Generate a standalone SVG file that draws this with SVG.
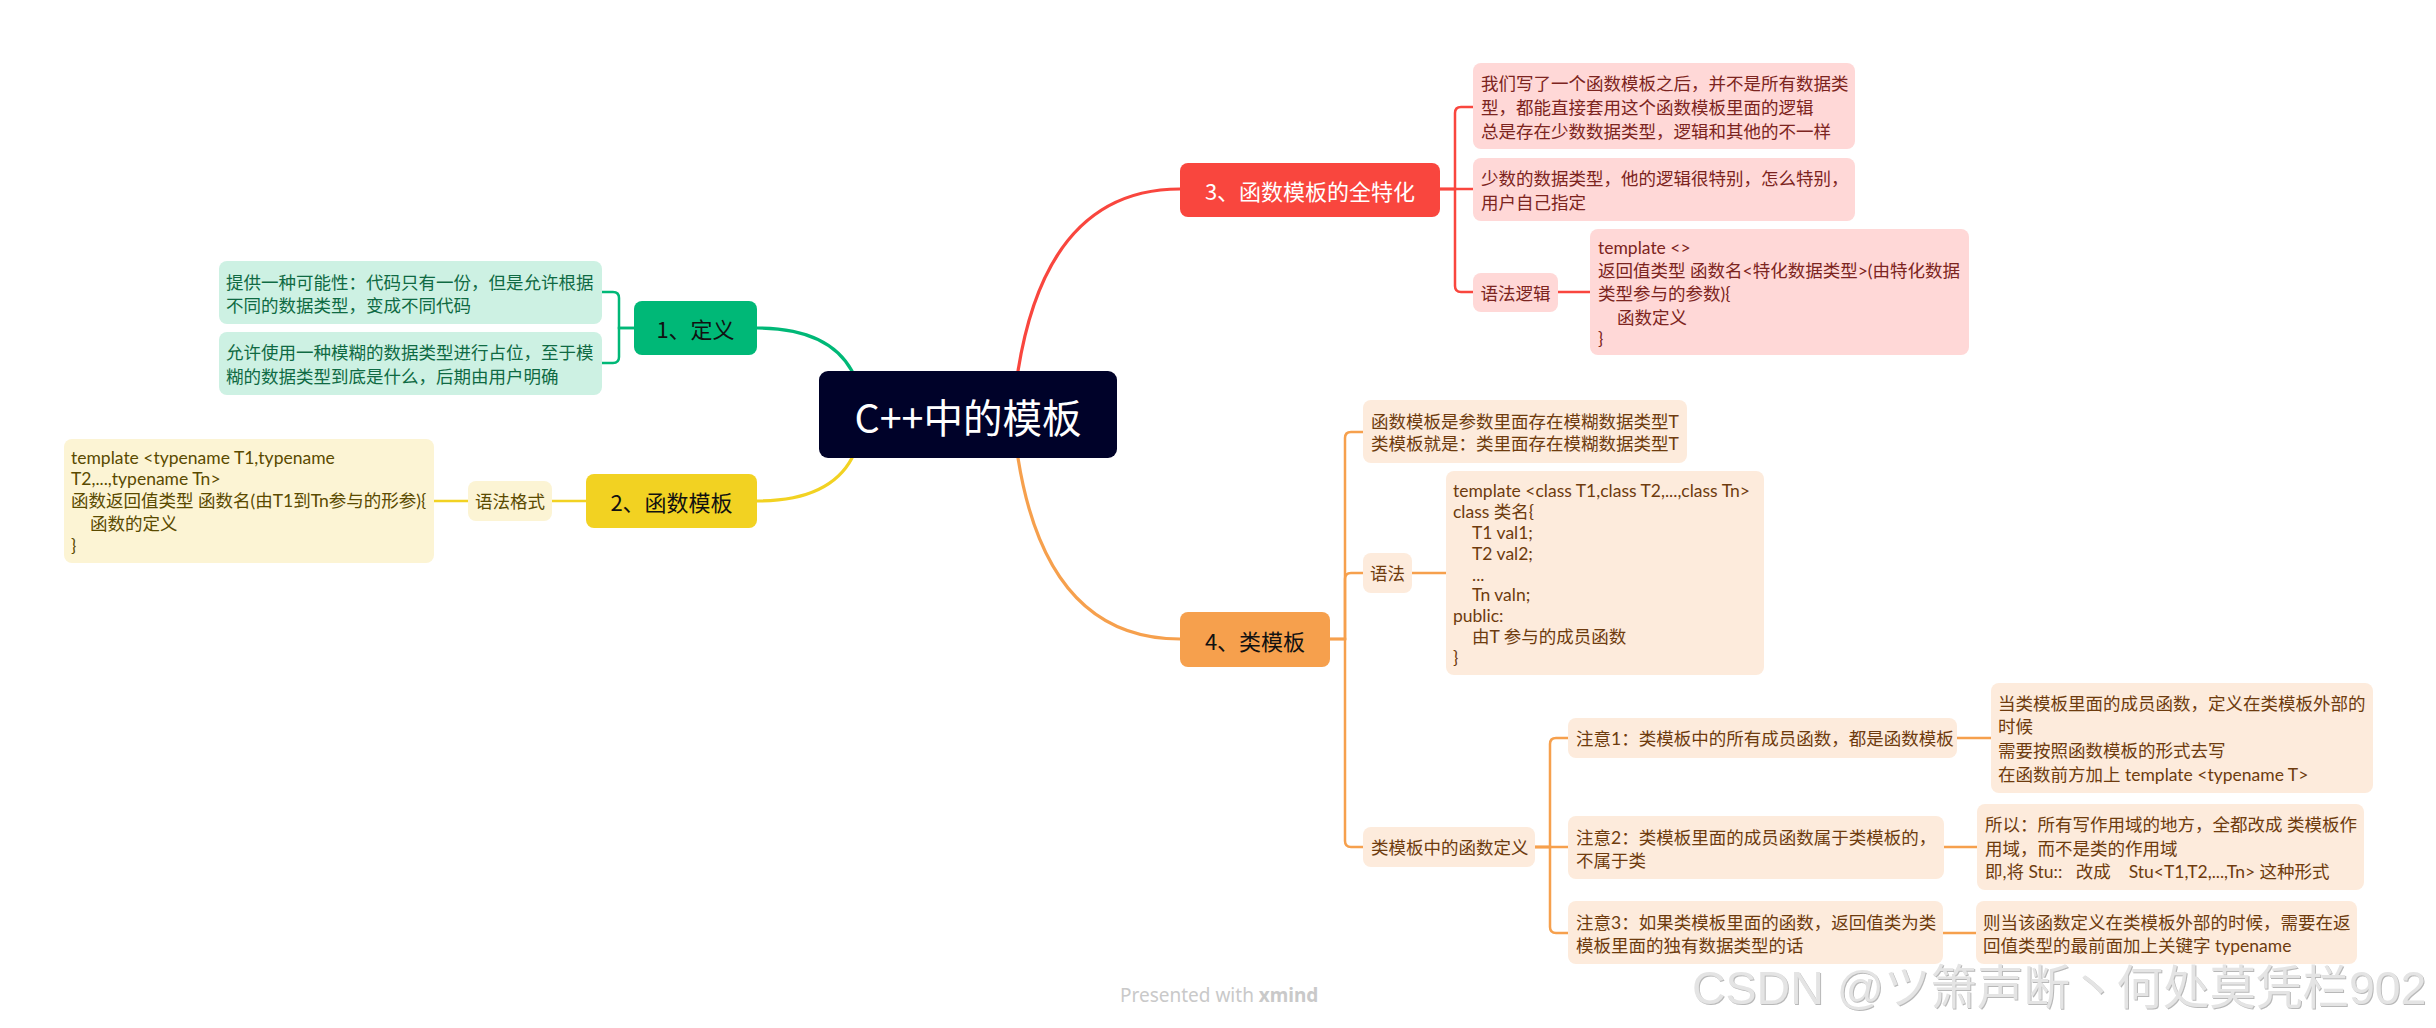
<svg xmlns="http://www.w3.org/2000/svg" width="2436" height="1028" viewBox="0 0 2436 1028">
<style>
text{font-family:"Noto Sans CJK SC","Noto Sans",sans-serif;dominant-baseline:central;white-space:pre}
.sub{font-size:17.5px;font-family:"Lato","Noto Sans CJK SC",sans-serif}
.main{font-size:22px}
.ln{fill:none;stroke-width:2.5;stroke-linecap:round}
.mln{fill:none;stroke-width:3.2;stroke-linecap:round}
.g-b{fill:#cdf1e3}.g-t{fill:#0f6a43}.g-l{stroke:#00b877}
.y-b{fill:#fcf4d4}.y-t{fill:#5a4a00}.y-l{stroke:#f2d222}
.r-b{fill:#ffd8d7}.r-t{fill:#7c2420}.r-l{stroke:#f9463e}
.o-b{fill:#fdebdc}.o-t{fill:#6e3b0e}.o-l{stroke:#f6a04d}
</style>
<defs>
<filter id="emboss" x="-5%" y="-20%" width="110%" height="140%">
<feDropShadow dx="1" dy="1" stdDeviation="0.6" flood-color="#b0b0b0" flood-opacity="0.9"/>
</filter>
</defs>
<rect width="2436" height="1028" fill="#ffffff"/>
<g id="connectors">
<path class="mln g-l" d="M757 328 C800 328 835 340 852 371"/>
<path class="mln y-l" d="M757 501 C800 501 835 490 852 458"/>
<path class="mln r-l" d="M1018 371 C1038 245 1095 189 1180 189"/>
<path class="mln o-l" d="M1018 458 C1038 584 1095 639 1180 639"/>
<path class="ln g-l" d="M634 328 H619 V298 Q619 292 613 292 H602"/>
<path class="ln g-l" d="M634 328 H619 V357 Q619 363 613 363 H602"/>
<path class="ln y-l" d="M586 501 H552"/>
<path class="ln y-l" d="M468 501 H434"/>
<path class="ln r-l" d="M1440 189 H1455 V113 Q1455 107 1461 107 H1473"/>
<path class="ln r-l" d="M1440 189 H1473"/>
<path class="ln r-l" d="M1440 189 H1455 V286 Q1455 292 1461 292 H1473"/>
<path class="ln r-l" d="M1558 292 H1590"/>
<path class="ln o-l" d="M1330 639 H1345 V438 Q1345 432 1351 432 H1363"/>
<path class="ln o-l" d="M1330 639 H1345 V579 Q1345 573 1351 573 H1363"/>
<path class="ln o-l" d="M1330 639 H1345 V841 Q1345 847 1351 847 H1363"/>
<path class="ln o-l" d="M1412 573 H1446"/>
<path class="ln o-l" d="M1535 847 H1550 V744 Q1550 738 1556 738 H1568"/>
<path class="ln o-l" d="M1535 847 H1568"/>
<path class="ln o-l" d="M1535 847 H1550 V927 Q1550 933 1556 933 H1568"/>
<path class="ln o-l" d="M1957 738 H1991"/>
<path class="ln o-l" d="M1944 847 H1977"/>
<path class="ln o-l" d="M1943 933 H1976"/>
</g>
<g id="root">
<rect x="819" y="371" width="298" height="87" rx="9" fill="#000229"/>
<text x="968" y="415" font-size="39.5" fill="#ffffff" text-anchor="middle">C++中的模板</text>
</g>
<g id="n1">
<rect x="634" y="301" width="123" height="54" rx="8" fill="#00b877"/>
<text class="main" x="695.5" y="328" fill="#111111" text-anchor="middle">1、定义</text>
</g>
<g id="n1a">
<rect class="g-b" x="219" y="261" width="383" height="63" rx="8"/>
<text class="sub g-t" x="226" y="282">提供一种可能性：代码只有一份，但是允许根据</text>
<text class="sub g-t" x="226" y="305">不同的数据类型，变成不同代码</text>
</g>
<g id="n1b">
<rect class="g-b" x="219" y="332" width="383" height="63" rx="8"/>
<text class="sub g-t" x="226" y="352">允许使用一种模糊的数据类型进行占位，至于模</text>
<text class="sub g-t" x="226" y="376">糊的数据类型到底是什么，后期由用户明确</text>
</g>
<g id="n2">
<rect x="586" y="474" width="171" height="54" rx="8" fill="#f2d222"/>
<text class="main" x="671.5" y="501" fill="#111111" text-anchor="middle">2、函数模板</text>
</g>
<g id="n2a">
<rect class="y-b" x="468" y="481" width="84" height="40" rx="8"/>
<text class="sub y-t" x="510" y="501" text-anchor="middle">语法格式</text>
</g>
<g id="n2b">
<rect class="y-b" x="64" y="439" width="370" height="124" rx="8"/>
<text class="sub y-t" x="71" y="457">template &lt;typename T1,typename</text>
<text class="sub y-t" x="71" y="478">T2,...,typename Tn&gt;</text>
<text class="sub y-t" x="71" y="500">函数返回值类型 函数名(由T1到Tn参与的形参){</text>
<text class="sub y-t" x="90" y="523">函数的定义</text>
<text class="sub y-t" x="71" y="545">}</text>
</g>
<g id="n3">
<rect x="1180" y="163" width="260" height="54" rx="8" fill="#f9463e"/>
<text class="main" x="1310" y="190" fill="#ffffff" text-anchor="middle">3、函数模板的全特化</text>
</g>
<g id="n3a">
<rect class="r-b" x="1473" y="63" width="382" height="86" rx="8"/>
<text class="sub r-t" x="1481" y="83">我们写了一个函数模板之后，并不是所有数据类</text>
<text class="sub r-t" x="1481" y="107">型，都能直接套用这个函数模板里面的逻辑</text>
<text class="sub r-t" x="1481" y="131">总是存在少数数据类型，逻辑和其他的不一样</text>
</g>
<g id="n3b">
<rect class="r-b" x="1473" y="158" width="382" height="63" rx="8"/>
<text class="sub r-t" x="1481" y="178">少数的数据类型，他的逻辑很特别，怎么特别，</text>
<text class="sub r-t" x="1481" y="202">用户自己指定</text>
</g>
<g id="n3c">
<rect class="r-b" x="1473" y="273" width="85" height="39" rx="8"/>
<text class="sub r-t" x="1515.5" y="293" text-anchor="middle">语法逻辑</text>
</g>
<g id="n3d">
<rect class="r-b" x="1590" y="229" width="379" height="126" rx="8"/>
<text class="sub r-t" x="1598" y="247">template &lt;&gt;</text>
<text class="sub r-t" x="1598" y="270">返回值类型 函数名&lt;特化数据类型&gt;(由特化数据</text>
<text class="sub r-t" x="1598" y="293">类型参与的参数){</text>
<text class="sub r-t" x="1617" y="317">函数定义</text>
<text class="sub r-t" x="1598" y="338">}</text>
</g>
<g id="n4">
<rect x="1180" y="612" width="150" height="55" rx="8" fill="#f6a04d"/>
<text class="main" x="1255" y="640" fill="#111111" text-anchor="middle">4、类模板</text>
</g>
<g id="n4a">
<rect class="o-b" x="1363" y="400" width="324" height="63" rx="8"/>
<text class="sub o-t" x="1371" y="421">函数模板是参数里面存在模糊数据类型T</text>
<text class="sub o-t" x="1371" y="443">类模板就是：类里面存在模糊数据类型T</text>
</g>
<g id="n4b">
<rect class="o-b" x="1363" y="553" width="49" height="40" rx="8"/>
<text class="sub o-t" x="1387.5" y="573" text-anchor="middle">语法</text>
</g>
<g id="n4c">
<rect class="o-b" x="1446" y="471" width="318" height="204" rx="8"/>
<text class="sub o-t" x="1453" y="490">template &lt;class T1,class T2,...,class Tn&gt;</text>
<text class="sub o-t" x="1453" y="511.5">class 类名{</text>
<text class="sub o-t" x="1472" y="532.5">T1 val1;</text>
<text class="sub o-t" x="1472" y="553.5">T2 val2;</text>
<text class="sub o-t" x="1472" y="574">...</text>
<text class="sub o-t" x="1472" y="594.5">Tn valn;</text>
<text class="sub o-t" x="1453" y="615">public:</text>
<text class="sub o-t" x="1472" y="636">由T 参与的成员函数</text>
<text class="sub o-t" x="1453" y="657">}</text>
</g>
<g id="n4d">
<rect class="o-b" x="1363" y="827" width="172" height="40" rx="8"/>
<text class="sub o-t" x="1371" y="847">类模板中的函数定义</text>
</g>
<g id="n4d1">
<rect class="o-b" x="1568" y="718" width="389" height="40" rx="8"/>
<text class="sub o-t" x="1576" y="738">注意1：类模板中的所有成员函数，都是函数模板</text>
</g>
<g id="n4d2">
<rect class="o-b" x="1568" y="816" width="376" height="63" rx="8"/>
<text class="sub o-t" x="1576" y="837">注意2：类模板里面的成员函数属于类模板的，</text>
<text class="sub o-t" x="1576" y="860">不属于类</text>
</g>
<g id="n4d3">
<rect class="o-b" x="1568" y="901" width="375" height="63" rx="8"/>
<text class="sub o-t" x="1576" y="922">注意3：如果类模板里面的函数，返回值类为类</text>
<text class="sub o-t" x="1576" y="945">模板里面的独有数据类型的话</text>
</g>
<g id="n4d1a">
<rect class="o-b" x="1991" y="683" width="382" height="110" rx="8"/>
<text class="sub o-t" x="1998" y="703">当类模板里面的成员函数，定义在类模板外部的</text>
<text class="sub o-t" x="1998" y="726">时候</text>
<text class="sub o-t" x="1998" y="750">需要按照函数模板的形式去写</text>
<text class="sub o-t" x="1998" y="774">在函数前方加上 template &lt;typename T&gt;</text>
</g>
<g id="n4d2a">
<rect class="o-b" x="1977" y="804" width="387" height="86" rx="8"/>
<text class="sub o-t" x="1985" y="824">所以：所有写作用域的地方，全都改成 类模板作</text>
<text class="sub o-t" x="1985" y="848">用域，而不是类的作用域</text>
<text class="sub o-t" x="1985" y="871">即,将 Stu::   改成    Stu&lt;T1,T2,...,Tn&gt; 这种形式</text>
</g>
<g id="n4d3a">
<rect class="o-b" x="1976" y="901" width="381" height="63" rx="8"/>
<text class="sub o-t" x="1983" y="922">则当该函数定义在类模板外部的时候，需要在返</text>
<text class="sub o-t" x="1983" y="945">回值类型的最前面加上关键字 typename</text>
</g>
<g id="footer">
<text x="1120" y="995" font-size="19" fill="#c9c9c9" style="font-family:'Noto Sans',sans-serif">Presented with <tspan font-weight="bold">xmind</tspan></text>
<text x="1692" y="988" font-size="46.5" fill="#e4e4e4" filter="url(#emboss)" style="font-family:'Liberation Sans','Noto Sans CJK SC',sans-serif">CSDN @ツ箫声断丶何处莫凭栏902</text>
</g>
</svg>
